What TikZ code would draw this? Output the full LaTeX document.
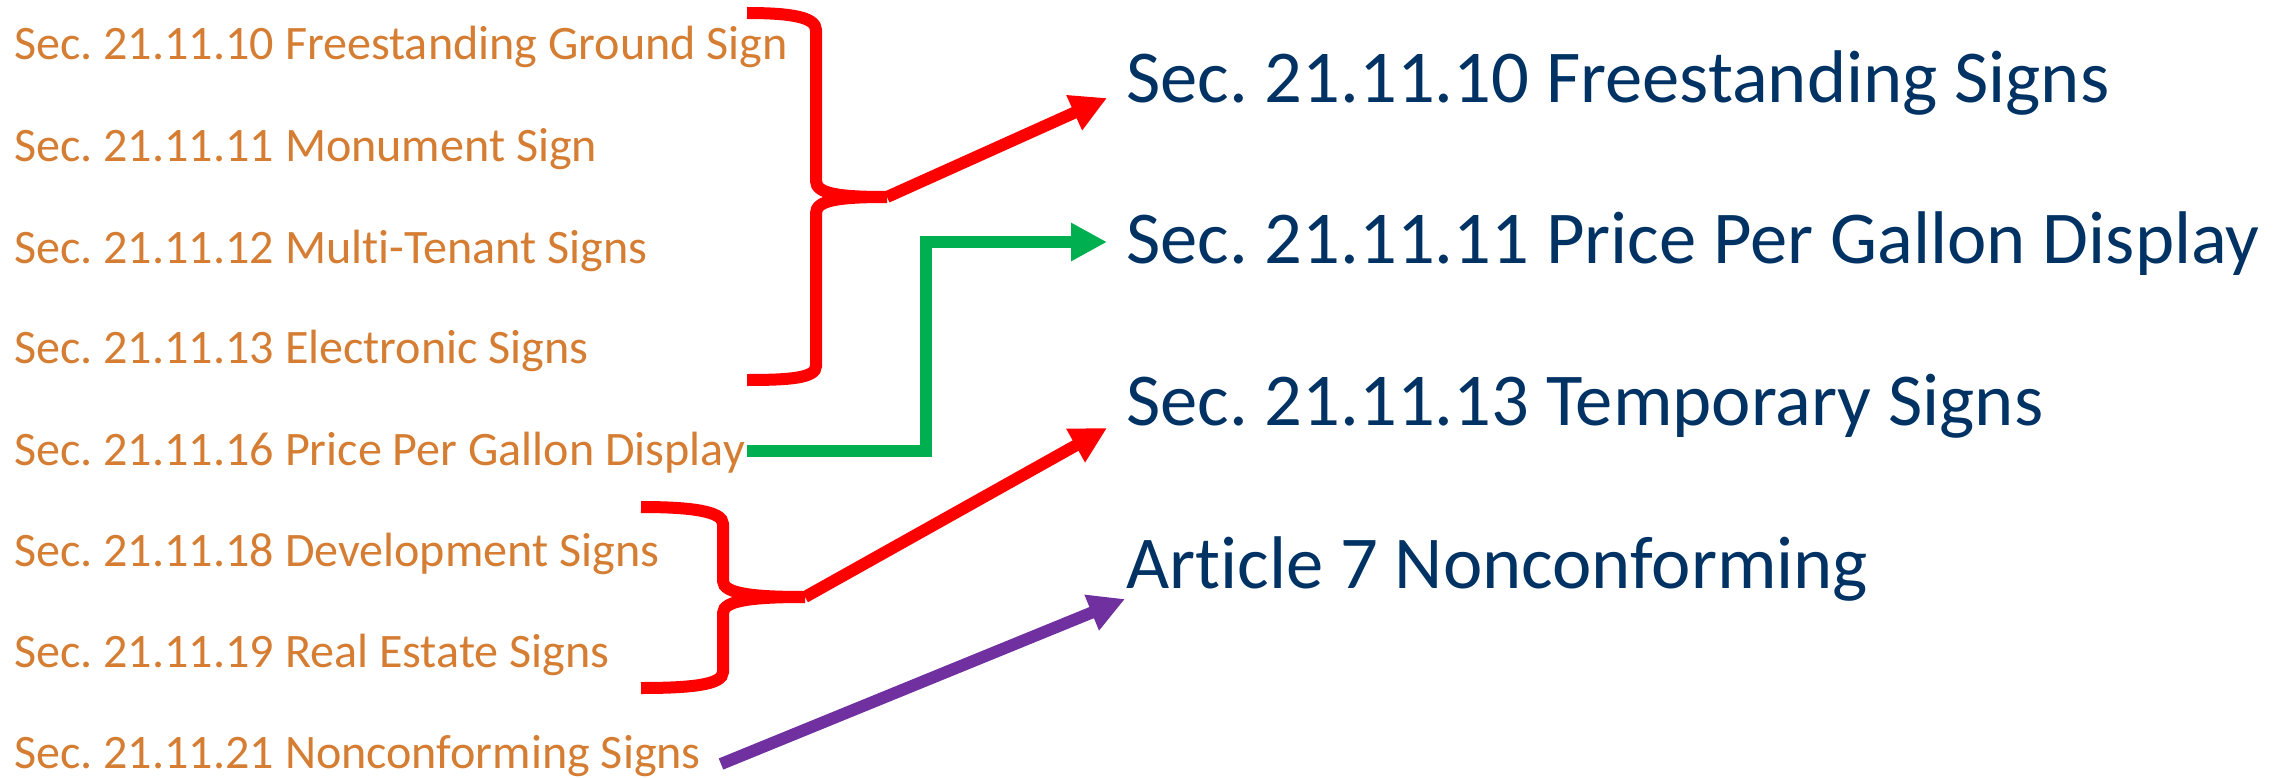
\documentclass[tikz,border=0pt]{standalone}
\usepackage{fontspec}
\setmainfont{Carlito}[Ligatures=NoCommon]
\usetikzlibrary{arrows.meta}
\definecolor{lefttxt}{RGB}{213,125,50}
\definecolor{righttxt}{RGB}{0,50,100}
\definecolor{bred}{RGB}{255,0,0}
\definecolor{bgreen}{RGB}{0,176,80}
\definecolor{bpurple}{RGB}{112,48,160}
\frenchspacing
\begin{document}
\begin{tikzpicture}[x=1pt,y=-1pt,
  src/.style={anchor=base west,inner sep=0pt,text=lefttxt,font=\fontsize{48.1}{57}\selectfont},
  dst/.style={anchor=base west,inner sep=0pt,text=righttxt,font=\fontsize{74.6}{88}\selectfont},
  brace/.style={draw=bred,line width=12pt},
  conn/.style={line width=12pt,-{Triangle[length=36pt,width=36pt]}},
]
\useasboundingbox (0,0) rectangle (2283,778);
% left items
\node[src] (l1) at (14,60)  {Sec. 21.11.10 Freestanding Ground Sign};
\node[src] (l2) at (14,162) {Sec. 21.11.11 Monument Sign};
\node[src] (l3) at (14,263) {Sec. 21.11.12 Multi-Tenant Signs};
\node[src] (l4) at (14,363) {Sec. 21.11.13 Electronic Signs};
\node[src] (l5) at (14,465) {Sec. 21.11.16 Price Per Gallon Display};
\node[src] (l6) at (14,566) {Sec. 21.11.18 Development Signs};
\node[src] (l7) at (14,667) {Sec. 21.11.19 Real Estate Signs};
\node[src] (l8) at (14,768) {Sec. 21.11.21 Nonconforming Signs};
% right items
\node[dst] (r1) at (1126,103) {Sec. 21.11.10 Freestanding Signs};
\node[dst] (r2) at (1126,263) {Sec. 21.11.11 Price Per Gallon Display};
\node[dst] (r3) at (1126,425) {Sec. 21.11.13 Temporary Signs};
\node[dst] (r4) at (1126,588) {Article 7 Nonconforming};
% connector end points
\coordinate (b1tip) at (887,197);
\coordinate (b2tip) at (805,597);
\coordinate (g0) at (747,451);
\coordinate (p0) at (721,764);
\coordinate (t1) at (1107,98);
\coordinate (t2) at (1107,242);
\coordinate (t3) at (1107,428);
\coordinate (t4) at (1125,599);
% braces
\draw[brace] (747,13) .. controls (790,13) and (816,17) .. (816,30) -- (816,181)
  .. controls (816,194) and (840,197) .. (b1tip)
  .. controls (840,197) and (816,200) .. (816,213) -- (816,366)
  .. controls (816,378) and (790,380) .. (747,380);
\draw[brace] (641,507) .. controls (690,507) and (723,511) .. (723,524) -- (723,581)
  .. controls (723,594) and (755,597) .. (b2tip)
  .. controls (755,597) and (723,600) .. (723,613) -- (723,672)
  .. controls (723,685) and (690,688) .. (641,688);
% arrows
\draw[conn,draw=bred] (b1tip) -- (t1);
\draw[conn,draw=bgreen] (g0) -- (926,451) -- (926,242) -- (t2);
\draw[conn,draw=bred] (b2tip) -- (t3);
\draw[conn,draw=bpurple] (p0) -- (t4);
\end{tikzpicture}
\end{document}
